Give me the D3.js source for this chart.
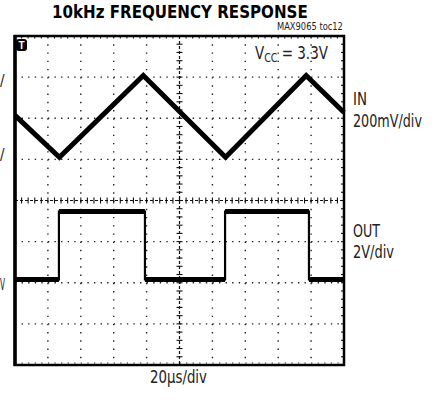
<!DOCTYPE html>
<html><head><meta charset="utf-8">
<script src="https://cdn.jsdelivr.net/npm/d3@7"></script>
<style>body{margin:0;background:#fff}svg{display:block}</style>
</head><body>
<script>
// ---- data ----
const title = "10kHz FREQUENCY RESPONSE";
const figId = "MAX9065 toc12";
const xLabel = "20\u00B5s/div";
const timeRangeUs = [0, 200];          // 10 div x 20us
const inTimeUs = [0, 27, 78, 128, 177, 200];
const inMv     = [414, 210, 608, 210, 608, 428];   // relative to screen centre, 200mV/div
const outTimeUs = [0, 26.7, 26.7, 79, 79, 127.7, 127.7, 178.7, 178.7, 200];
const outV      = [0, 0, 3.3, 3.3, 0, 0, 3.3, 3.3, 0, 0]; // 2V/div
const outGroundV = -3.84;  // ground level position relative to centre (in V at 2V/div)
const inLabel = ["IN", "200mV/div"];
const outLabel = ["OUT", "2V/div"];

const W = 435, H = 402;
const L = 15, R = 344, T = 36, B = 365;
const svg = d3.select("body").append("svg").attr("width", W).attr("height", H);
const font = "'Liberation Sans Narrow','DejaVu Sans Condensed','Roboto Condensed','Liberation Sans',Arial,sans-serif";

const x = d3.scaleLinear().domain(timeRangeUs).range([L, R]);
const yIn = d3.scaleLinear().domain([-800, 800]).range([B, T]);
const yOut = d3.scaleLinear().domain([-8, 8]).range([B, T]);
const yDiv = d3.scaleLinear().domain([-4, 4]).range([B, T]);
const xDiv = d3.scaleLinear().domain([0, 10]).range([L, R]);

const g = svg.append("g");
// grid dotted lines
const dotC = "#222";
for (let i = 1; i < 10; i++) {
  if (i === 5) continue;
  g.append("line").attr("x1", xDiv(i)).attr("x2", xDiv(i)).attr("y1", T).attr("y2", B)
    .attr("stroke", dotC).attr("stroke-width", 1.4)
    .attr("stroke-dasharray", "1.4 " + ((B - T) / 40 - 1.4));
}
for (let j = -3; j <= 3; j++) {
  if (j === 0) continue;
  g.append("line").attr("y1", yDiv(j)).attr("y2", yDiv(j)).attr("x1", L).attr("x2", R)
    .attr("stroke", dotC).attr("stroke-width", 1.4)
    .attr("stroke-dasharray", "1.4 " + ((R - L) / 50 - 1.4));
}
// bottom dotted near frame
g.append("line").attr("y1", B - 2).attr("y2", B - 2).attr("x1", L).attr("x2", R)
  .attr("stroke", dotC).attr("stroke-width", 1.2)
  .attr("stroke-dasharray", "1.2 " + ((R - L) / 50 - 1.2));
// centre crosshair
const cx = xDiv(5), cy = yDiv(0);
g.append("line").attr("x1", L).attr("x2", R).attr("y1", cy).attr("y2", cy)
  .attr("stroke", "#111").attr("stroke-width", 1.2).attr("stroke-dasharray", "3 2");
g.append("line").attr("y1", T).attr("y2", B).attr("x1", cx).attr("x2", cx)
  .attr("stroke", "#111").attr("stroke-width", 1.2).attr("stroke-dasharray", "3 2");
for (let k = 0; k <= 50; k++) {
  const xx = L + k * (R - L) / 50;
  g.append("line").attr("x1", xx).attr("x2", xx).attr("y1", cy - 3).attr("y2", cy + 3)
    .attr("stroke", "#111").attr("stroke-width", 1.1);
}
for (let k = 0; k <= 40; k++) {
  const yy = T + k * (B - T) / 40;
  g.append("line").attr("y1", yy).attr("y2", yy).attr("x1", cx - 3).attr("x2", cx + 3)
    .attr("stroke", "#111").attr("stroke-width", 1.1);
}
// right border ticks
for (let k = 1; k < 40; k++) {
  const yy = T + k * (B - T) / 40;
  g.append("line").attr("y1", yy).attr("y2", yy).attr("x1", R - 3).attr("x2", R)
    .attr("stroke", "#111").attr("stroke-width", 1.1);
}
// top border ticks
for (let k = 1; k < 50; k++) {
  const xx = L + k * (R - L) / 50;
  g.append("line").attr("x1", xx).attr("x2", xx).attr("y1", T).attr("y2", T + 2.5)
    .attr("stroke", "#111").attr("stroke-width", 1.1);
}

// IN trace
const inPts = inTimeUs.map((t, i) => [t, inMv[i]]);
g.append("path").datum(inPts)
  .attr("d", d3.line().x(d => x(d[0])).y(d => yIn(d[1])))
  .attr("fill", "none").attr("stroke", "#000").attr("stroke-width", 5)
  .attr("stroke-linejoin", "miter");

// OUT trace
const outPts = outTimeUs.map((t, i) => [t, outV[i] + outGroundV]);
g.append("path").datum(outPts)
  .attr("d", d3.line().x(d => x(d[0])).y(d => yOut(d[1])))
  .attr("fill", "none").attr("stroke", "#000").attr("stroke-width", 2.2);
for (let i = 0; i < outPts.length - 1; i++) {
  if (outPts[i][1] === outPts[i + 1][1]) {
    g.append("line").attr("x1", x(outPts[i][0])).attr("x2", x(outPts[i + 1][0]))
      .attr("y1", yOut(outPts[i][1])).attr("y2", yOut(outPts[i][1]))
      .attr("stroke", "#000").attr("stroke-width", 5);
  }
}

// frame
svg.append("rect").attr("x", L).attr("y", T).attr("width", R - L).attr("height", B - T)
  .attr("fill", "none").attr("stroke", "#000").attr("stroke-width", 2.5);
svg.append("line").attr("x1", L).attr("x2", L).attr("y1", T - 1).attr("y2", B + 1)
  .attr("stroke", "#000").attr("stroke-width", 3.5);

// trigger marker
svg.append("rect").attr("x", L + 1).attr("y", T + 3).attr("width", 11).attr("height", 12)
  .attr("rx", 3).attr("fill", "#000");
svg.append("text").attr("x", L + 6.5).attr("y", T + 13).attr("text-anchor", "middle")
  .attr("font-family", "Arial,sans-serif").attr("font-weight", "bold").attr("font-size", 10)
  .attr("fill", "#fff").text("T");

// condensed text helper: scales horizontally to the target width
const txt = (s, xx, yy, size, len, opts = {}) => {
  const t = svg.append("text").attr("x", 0).attr("y", 0)
    .attr("font-family", font).attr("font-size", size)
    .attr("font-weight", opts.bold ? "bold" : "normal")
    .attr("fill", opts.fill || "#222");
  if (opts.build) opts.build(t); else t.text(s);
  const w = t.node().getComputedTextLength();
  const sx = Math.min(1, len / w);
  t.attr("transform", `translate(${xx},${yy}) scale(${sx},1)`);
  return t;
};
txt(title, 52, 18, 18, 256, {bold: true, fill: "#000"});
txt(figId, 277, 30, 10, 66);

txt(null, 255, 59, 17, 73, {build: t => {
  t.append("tspan").text("V");
  t.append("tspan").attr("font-size", 12).attr("dy", 3).text("CC");
  t.append("tspan").attr("dy", -3).text(" = 3.3V");
}});

txt(inLabel[0], 353, 105, 18, 14);
txt(inLabel[1], 353, 127, 18, 69);
txt(outLabel[0], 353, 237, 18, 27);
txt(outLabel[1], 353, 258, 18, 41);
txt(xLabel, 150, 383, 17, 57);

// left-edge labels (partially visible in the reference)
[[80, "/"], [154, "/"], [284, "V"]].forEach(([yy, s]) => txt(s, 0, yy + 6, 15, 5));
</script>
</body></html>
